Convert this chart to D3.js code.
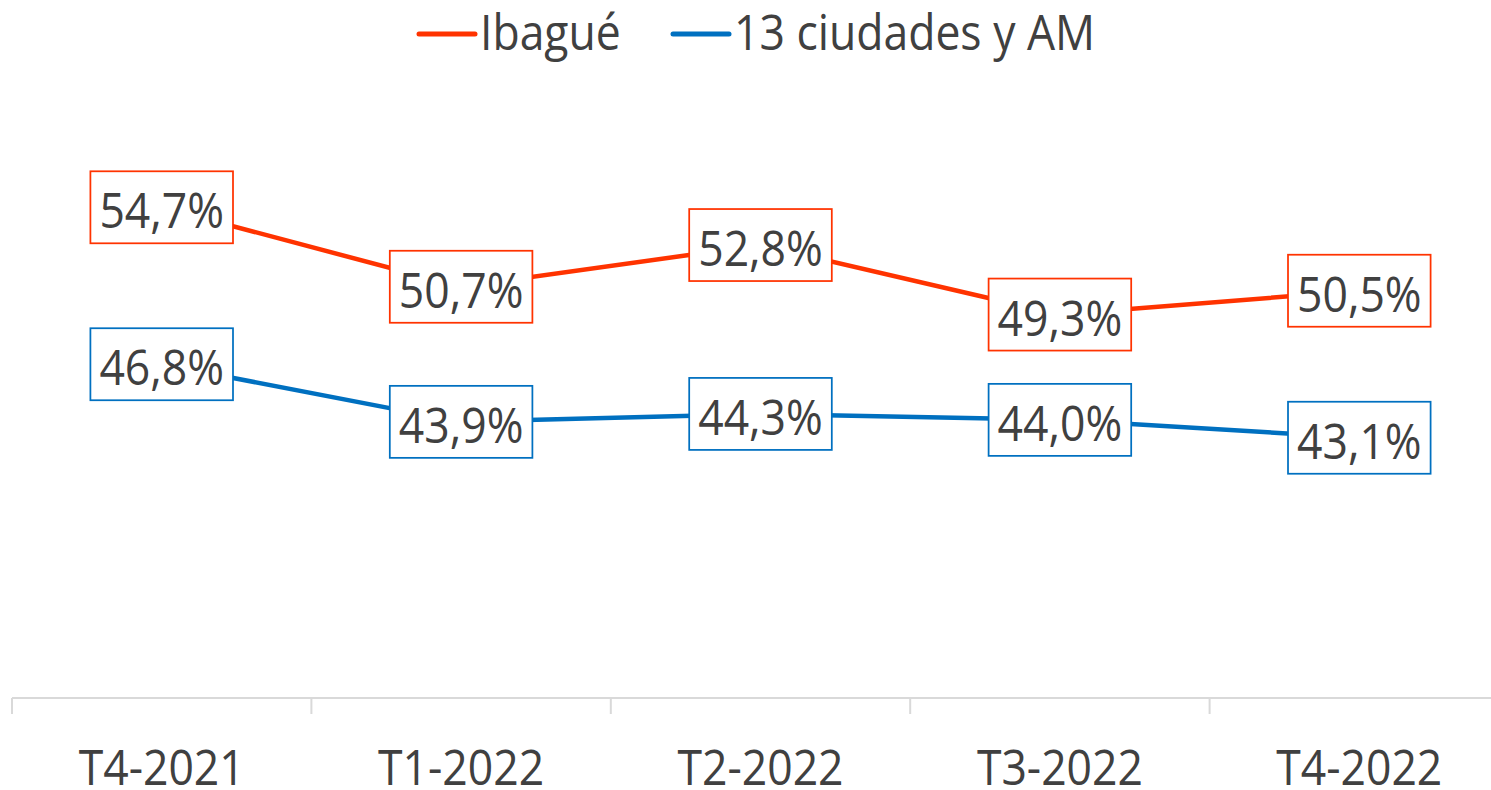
<!DOCTYPE html>
<html>
<head>
<meta charset="utf-8">
<script src="https://cdn.jsdelivr.net/npm/d3@7"></script>
<style>
  body { margin: 0; background: #fff; }
  svg { display: block; }
  text { font-family: "Open Sans", "Noto Sans", sans-serif; fill: #404040; }
</style>
</head>
<body>
<svg id="chart" width="1491" height="790"></svg>
<script>
// data
var periods = ["T4-2021", "T1-2022", "T2-2022", "T3-2022", "T4-2022"];
var ibague = [54.7, 50.7, 52.8, 49.3, 50.5];
var ciudades = [46.8, 43.9, 44.3, 44.0, 43.1];
var seriesNames = ["Ibagué", "13 ciudades y AM"];
var seriesColors = ["#FF3300", "#0070C0"];

var svg = d3.select("#chart");
var squeeze = 0.89; // text in the picture is a bit narrow

var x = d3.scaleBand().domain(periods).range([12, 1509]).padding(0);
var y = d3.scaleLinear().domain([30, 60]).range([698, 102]);

// x axis line + ticks at category boundaries
svg.append("line")
    .attr("x1", 12).attr("x2", 1491)
    .attr("y1", y(30)).attr("y2", y(30))
    .style("stroke", "#d9d9d9").style("stroke-width", 2);

svg.selectAll(".bound")
    .data(periods)
    .enter()
    .append("line")
    .attr("class", "bound")
    .attr("x1", function(d) { return x(d); })
    .attr("x2", function(d) { return x(d); })
    .attr("y1", y(30)).attr("y2", y(30) + 16)
    .style("stroke", "#d9d9d9").style("stroke-width", 2);

var xAxis = svg.append("g")
    .attr("transform", "translate(0," + y(30) + ")")
    .call(d3.axisBottom(x).tickSize(0).tickPadding(0));
xAxis.select(".domain").remove();
xAxis.selectAll(".tick text")
    .attr("y", 87)
    .attr("dy", 0)
    .attr("transform", "scale(" + squeeze + ",1)")
    .attr("x", 0)
    .style("font-size", "50px")
    .style("fill", "#404040");
// keep the squeeze centred on each tick
xAxis.selectAll(".tick").each(function() {
    var t = d3.select(this).attr("transform");
    d3.select(this).select("text").attr("transform", "scale(" + squeeze + ",1)");
});

var line = d3.line()
    .x(function(d, i) { return x(periods[i]) + x.bandwidth() / 2; })
    .y(function(d) { return y(d); });

var allSeries = [ibague, ciudades];

allSeries.forEach(function(vals, s) {
    svg.append("path")
        .datum(vals)
        .attr("d", line)
        .style("fill", "none")
        .style("stroke", seriesColors[s])
        .style("stroke-width", 4.5)
        .style("stroke-linejoin", "round");
});

// data labels in boxes
allSeries.forEach(function(vals, s) {
    var g = svg.selectAll(".lab" + s)
        .data(vals)
        .enter()
        .append("g")
        .attr("class", "lab" + s)
        .attr("transform", function(d, i) {
            return "translate(" + (x(periods[i]) + x.bandwidth() / 2) + "," + y(d) + ")";
        });

    var rect = g.append("rect");
    var txt = g.append("text")
        .attr("text-anchor", "middle")
        .attr("y", 21)
        .attr("transform", "scale(" + squeeze + ",1)")
        .style("font-size", "50px")
        .text(function(d) { return d.toFixed(1).replace(".", ",") + "%"; });

    g.each(function() {
        var node = d3.select(this);
        var w = node.select("text").node().getBBox().width * squeeze + 18;
        node.select("rect")
            .attr("x", -w / 2).attr("y", -36)
            .attr("width", w).attr("height", 72)
            .style("fill", "#fff")
            .style("stroke", seriesColors[s])
            .style("stroke-width", 1.75);
    });
});

// legend
var legendX = [419, 673];
seriesNames.forEach(function(name, s) {
    svg.append("line")
        .attr("x1", legendX[s]).attr("x2", legendX[s] + 56)
        .attr("y1", 34).attr("y2", 34)
        .style("stroke", seriesColors[s])
        .style("stroke-width", 5)
        .style("stroke-linecap", "round");
    svg.append("text")
        .attr("transform", "translate(" + (legendX[s] + 61) + ",50) scale(" + squeeze + ",1)")
        .style("font-size", "50px")
        .text(name);
});
</script>
</body>
</html>
